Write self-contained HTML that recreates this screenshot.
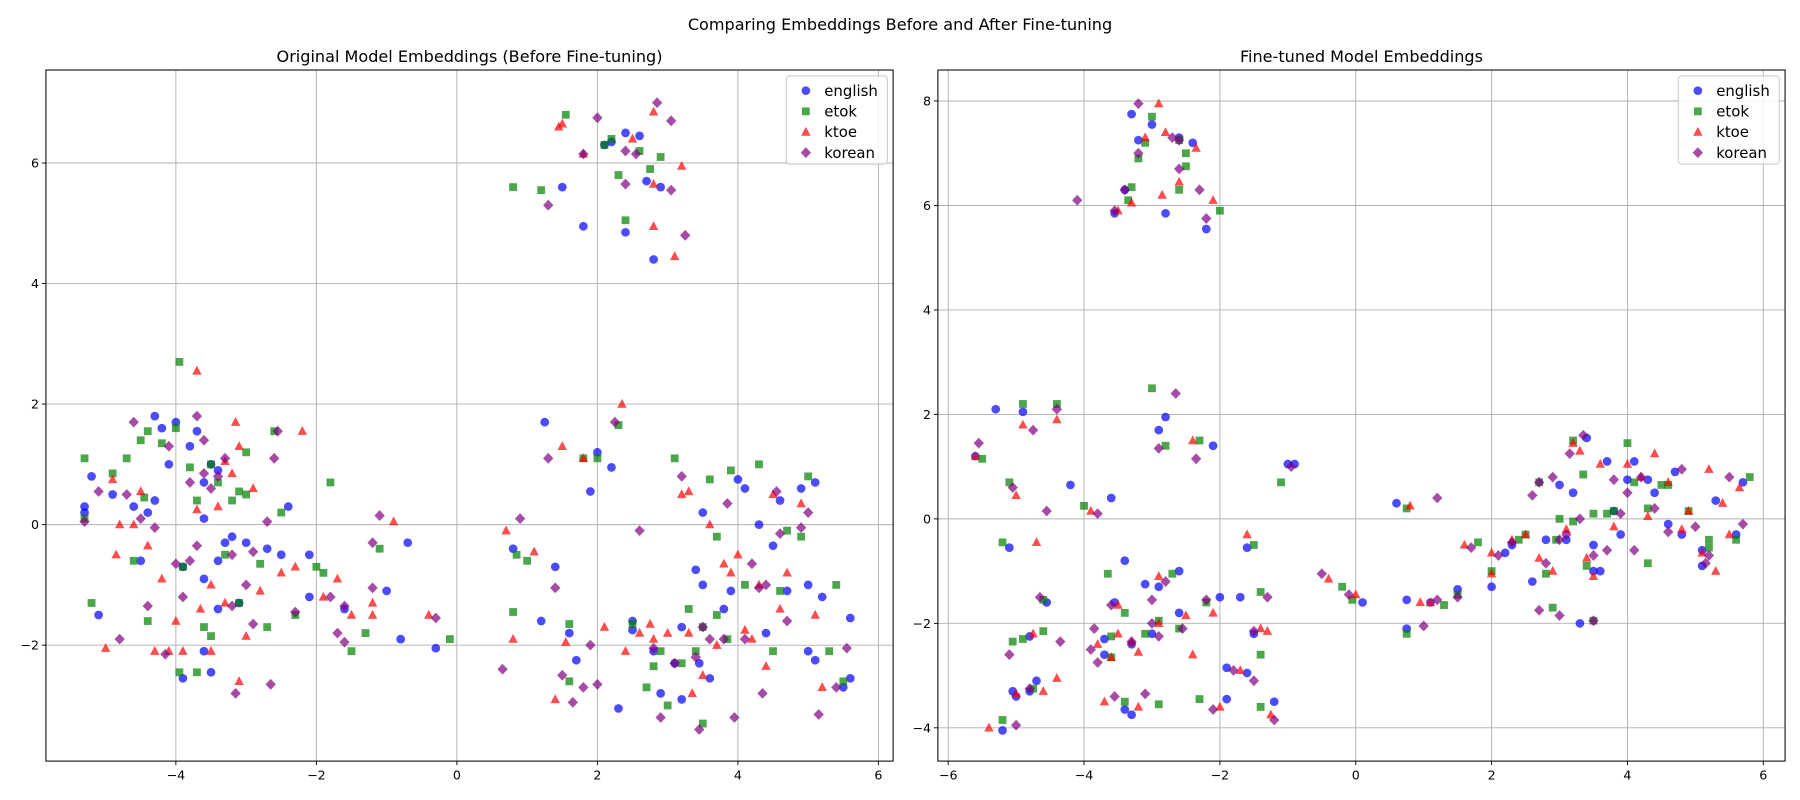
<!DOCTYPE html>
<html><head><meta charset="utf-8">
<style>
html,body{margin:0;padding:0;background:#fff;}
svg{display:block;font-family:"DejaVu Sans","Liberation Sans",sans-serif;}
</style></head>
<body>
<svg id="chart" width="1800" height="800" viewBox="0 0 1800 800">
<g id="root" transform="scale(1.14796)">
<text x="784" y="26" text-anchor="middle" font-size="14">Comparing Embeddings Before and After Fine-tuning</text>
</g>
</svg>
<script>
// ---- data ----
const seriesNames = ["english","etok","ktoe","korean"];
const leftXTicks = [-4,-2,0,2,4,6];
const leftYTicks = [-2,0,2,4,6];
const rightXTicks = [-6,-4,-2,0,2,4,6];
const rightYTicks = [-4,-2,0,2,4,6,8];

const leftEnglish = [[-5.3,0.3],[-5.3,0.2],[-5.2,0.8],[-5.1,-1.5],[-4.9,0.5],[-4.6,0.3],[-4.5,-0.6],[-4.4,0.2],[-4.3,1.8],[-4.3,0.4],[-4.2,1.6],[-4.1,1.0],[-4.0,1.7],[-3.9,-2.55],[-3.8,1.3],[-3.7,1.55],[-3.6,-0.9],[-3.6,0.7],[-3.6,0.1],[-3.5,1.0],[-3.4,0.9],[-3.4,-1.4],[-3.4,-0.6],[-3.3,-0.3],[-3.2,-0.2],[-3.1,-1.3],[-3.0,-0.3],[-2.7,-0.4],[-2.5,-0.5],[-2.4,0.3],[-2.1,-0.5],[-2.1,-1.2],[-1.6,-1.4],[-1.0,-1.1],[-0.7,-0.3],[-0.3,-2.05],[-0.8,-1.9],[-3.6,-2.1],[-3.5,-2.45],[-3.9,-0.7],
[1.5,5.6],[1.8,4.95],[2.1,6.3],[2.2,6.35],[2.4,6.5],[2.6,6.45],[2.4,4.85],[2.7,5.7],[2.8,4.4],[2.9,5.6],
[1.25,1.7],[1.4,-0.7],[0.8,-0.4],[1.2,-1.6],[1.6,-1.8],[1.7,-2.25],[1.9,0.55],[2.0,1.2],[2.2,0.95],[2.3,-3.05],[2.5,-1.6],[2.5,-1.75],[2.8,-2.1],[2.9,-2.8],[3.2,-1.7],[3.2,-2.9],[3.4,-0.75],[3.45,-2.3],[3.5,0.2],[3.5,-1.0],[3.6,-2.55],[3.8,-1.4],[3.9,-1.1],[4.0,0.75],[4.1,0.6],[4.3,0.0],[4.4,-1.8],[4.5,-0.35],[4.6,0.4],[4.9,0.6],[5.0,-1.0],[5.0,-2.1],[5.1,-2.25],[5.1,0.7],[5.2,-1.2],[5.5,-2.7],[5.6,-1.55],[5.6,-2.55],[4.7,-1.1],[3.1,-2.3]];
const leftEtok = [[-5.3,1.1],[-5.3,0.1],[-5.2,-1.3],[-4.9,0.85],[-4.7,1.1],[-4.6,-0.6],[-4.5,1.4],[-4.45,0.45],[-4.4,1.55],[-4.4,-1.6],[-4.2,1.35],[-4.0,1.6],[-3.95,2.7],[-3.95,-2.45],[-3.9,-0.7],[-3.8,0.95],[-3.7,0.4],[-3.7,-2.45],[-3.6,-1.7],[-3.5,1.0],[-3.5,-1.85],[-3.4,0.7],[-3.3,-0.5],[-3.2,0.4],[-3.1,-1.3],[-3.1,0.55],[-3.0,1.2],[-3.0,0.5],[-2.8,-0.65],[-2.7,-1.7],[-2.6,1.55],[-2.5,0.2],[-2.3,-1.5],[-2.0,-0.7],[-1.9,-0.8],[-1.8,0.7],[-1.5,-2.1],[-1.3,-1.8],[-1.1,-0.4],[-0.1,-1.9],
[0.8,5.6],[1.2,5.55],[1.55,6.8],[2.1,6.3],[2.2,6.4],[2.3,5.8],[2.4,5.05],[2.6,6.2],[2.75,5.9],[2.9,6.1],
[0.8,-1.45],[0.85,-0.5],[1.0,-0.6],[1.6,-1.65],[1.6,-2.6],[1.8,1.1],[2.0,1.1],[2.3,1.65],[2.5,-1.65],[2.7,-2.7],[2.8,-2.35],[3.0,-3.0],[3.1,1.1],[3.2,-2.3],[3.3,-1.4],[3.4,-2.1],[3.5,-3.3],[3.6,0.75],[3.7,-0.2],[3.7,-1.5],[3.85,-1.9],[3.9,0.9],[4.1,-1.0],[4.3,1.0],[4.5,-2.1],[4.6,-1.1],[4.7,-0.1],[4.9,-0.2],[5.0,0.8],[5.4,-1.0],[5.3,-2.1],[5.5,-2.6],[3.5,-1.7],[2.9,-2.1]];
const leftKtoe = [[-5.0,-2.05],[-4.9,0.75],[-4.85,-0.5],[-4.8,0.0],[-4.6,0.0],[-4.5,0.55],[-4.4,-0.35],[-4.3,-2.1],[-4.2,-0.9],[-4.1,-2.1],[-4.0,-1.6],[-3.9,-2.1],[-3.7,2.55],[-3.7,0.25],[-3.65,-1.4],[-3.5,-2.1],[-3.5,-1.0],[-3.4,0.3],[-3.3,-1.3],[-3.3,1.05],[-3.2,0.85],[-3.15,1.7],[-3.1,1.3],[-3.1,-2.6],[-3.0,-1.85],[-2.9,0.6],[-2.8,-1.1],[-2.5,-0.8],[-2.3,-0.7],[-2.2,1.55],[-1.9,-1.2],[-1.7,-0.9],[-1.5,-1.5],[-1.2,-1.5],[-1.2,-1.3],[-0.9,0.05],[-0.4,-1.5],
[1.45,6.6],[1.5,6.65],[1.8,6.15],[2.5,6.4],[2.8,6.85],[2.8,5.65],[3.2,5.95],[3.1,4.45],[2.8,4.95],
[0.7,-0.1],[0.8,-1.9],[1.1,-0.45],[1.4,-2.9],[1.5,1.3],[1.55,-1.95],[1.8,1.1],[2.1,-1.7],[2.35,2.0],[2.4,-2.1],[2.6,-1.8],[2.75,-1.65],[2.8,-1.9],[3.0,-1.8],[3.2,0.5],[3.3,0.55],[3.3,-1.8],[3.35,-2.8],[3.5,-2.5],[3.6,0.0],[3.7,-2.0],[3.8,-0.65],[3.9,-0.8],[4.0,-0.5],[4.1,-1.75],[4.2,-1.9],[4.3,-1.0],[4.5,0.5],[4.6,-1.4],[4.7,-0.8],[4.9,0.35],[5.1,-1.5],[5.2,-2.7],[4.4,-2.35]];
const leftKorean = [[-5.3,0.05],[-5.1,0.55],[-4.8,-1.9],[-4.7,0.5],[-4.6,1.7],[-4.5,0.1],[-4.4,-1.35],[-4.3,-0.05],[-4.15,-2.15],[-4.1,1.3],[-4.0,-0.65],[-3.9,-1.2],[-3.8,0.7],[-3.8,-0.6],[-3.7,1.8],[-3.7,-0.35],[-3.6,1.4],[-3.6,0.85],[-3.5,0.6],[-3.4,0.8],[-3.3,1.1],[-3.2,-0.5],[-3.2,-1.35],[-3.15,-2.8],[-3.0,-1.0],[-2.9,-0.45],[-2.9,-1.65],[-2.7,0.05],[-2.65,-2.65],[-2.6,1.1],[-2.55,1.55],[-2.3,-1.45],[-1.8,-1.2],[-1.7,-1.8],[-1.6,-1.95],[-1.6,-1.35],[-1.2,-0.3],[-1.2,-1.05],[-1.1,0.15],[-0.3,-1.55],
[1.3,5.3],[1.8,6.15],[2.0,6.75],[2.4,6.2],[2.4,5.65],[2.55,6.15],[2.85,7.0],[3.05,6.7],[3.05,5.55],[3.25,4.8],
[0.65,-2.4],[0.9,0.1],[1.3,1.1],[1.4,-1.05],[1.5,-2.5],[1.65,-2.95],[1.8,-2.7],[1.9,-2.0],[2.0,-2.65],[2.25,1.7],[2.6,-0.1],[2.8,-2.05],[2.9,-3.2],[3.1,-2.3],[3.2,0.8],[3.4,-2.2],[3.45,-3.4],[3.5,-1.7],[3.6,-1.9],[3.8,-1.9],[3.85,0.35],[3.95,-3.2],[4.1,-1.9],[4.2,-0.65],[4.3,-1.05],[4.35,-2.8],[4.4,-1.0],[4.55,0.55],[4.6,-0.15],[4.7,-1.6],[4.9,-0.05],[5.0,0.2],[5.15,-3.15],[5.4,-2.7],[5.55,-2.05]];

const rightEnglish = [[-3.3,7.75],[-3.2,7.25],[-3.0,7.55],[-2.6,7.3],[-2.4,7.2],[-3.4,6.3],[-3.55,5.85],[-2.8,5.85],[-2.2,5.55],
[-5.3,2.1],[-5.6,1.2],[-4.9,2.05],[-5.1,-0.55],[-4.2,0.65],[-3.6,0.4],[-2.9,1.7],[-2.8,1.95],[-2.1,1.4],[-3.7,-2.3],[-3.7,-2.6],[-3.55,-1.6],[-3.4,-0.8],[-3.1,-1.25],[-3.3,-2.4],[-3.0,-2.2],[-2.6,-1.0],[-2.9,-1.3],[-2.0,-1.5],[-1.6,-0.55],[-1.5,-2.2],[-1.7,-1.5],[-1.9,-2.85],[-1.6,-2.95],[-1.2,-3.5],[-1.9,-3.45],[-3.4,-3.65],[-3.3,-3.75],[-5.2,-4.05],[-5.0,-3.4],[-4.8,-3.3],[-4.7,-3.1],[-4.55,-1.6],[-5.05,-3.3],[-4.8,-2.25],[-2.6,-1.8],[-1.0,1.05],[-0.9,1.05],
[0.1,-1.6],[0.6,0.3],[0.75,-1.55],[0.75,-2.1],[1.1,-1.6],[1.5,-1.35],[2.0,-1.3],[2.2,-0.65],[2.3,-0.5],[2.6,-1.2],[2.8,-0.4],[3.0,0.65],[3.1,-0.4],[3.2,0.5],[3.3,-2.0],[3.4,1.55],[3.5,-0.5],[3.6,-1.0],[3.7,1.1],[3.8,0.15],[3.9,-0.3],[4.0,0.75],[4.1,1.1],[4.3,0.75],[4.4,0.5],[4.6,-0.1],[4.7,0.9],[4.8,-0.3],[5.1,-0.6],[5.1,-0.9],[5.3,0.35],[5.6,-0.3],[5.7,0.7],[3.5,-1.0]];
const rightEtok = [[-3.0,7.7],[-3.1,7.2],[-3.2,6.9],[-2.6,7.25],[-2.5,7.0],[-2.5,6.75],[-2.6,6.3],[-3.35,6.1],[-3.3,6.35],[-2.0,5.9],
[-5.5,1.15],[-5.1,0.7],[-4.9,2.2],[-4.4,2.2],[-4.0,0.25],[-3.0,2.5],[-2.8,1.4],[-2.3,1.5],[-5.2,-0.45],[-5.05,-2.35],[-4.9,-2.3],[-4.6,-2.15],[-5.2,-3.85],[-4.75,-3.25],[-4.6,-1.55],[-3.65,-1.05],[-3.4,-1.8],[-3.6,-2.25],[-3.6,-2.65],[-3.4,-3.5],[-2.9,-3.55],[-2.7,-1.05],[-2.6,-2.1],[-2.2,-1.6],[-2.3,-3.45],[-1.5,-0.5],[-1.4,-1.4],[-1.4,-2.6],[-1.4,-3.6],[-1.1,0.7],[-2.9,-1.95],[-3.1,-2.2],
[-0.2,-1.3],[-0.05,-1.55],[0.75,0.2],[0.75,-2.2],[1.3,-1.65],[1.5,-1.45],[1.8,-0.45],[2.0,-1.0],[2.4,-0.4],[2.5,-0.3],[2.7,0.7],[2.8,-1.05],[2.9,-1.7],[3.0,0.0],[3.2,1.5],[3.2,-0.05],[3.35,0.85],[3.5,-1.95],[3.5,0.1],[3.7,0.1],[3.8,0.15],[4.0,1.45],[4.1,0.7],[4.3,-0.85],[4.3,0.2],[4.5,0.65],[4.6,0.65],[4.9,0.15],[5.2,-0.4],[5.2,-0.55],[5.6,-0.4],[5.8,0.8],[3.4,-0.9],[2.95,-0.4]];
const rightKtoe = [[-3.5,5.9],[-3.3,6.05],[-2.9,7.95],[-2.8,7.4],[-2.85,6.2],[-2.6,6.45],[-2.35,7.1],[-2.1,6.1],[-3.1,7.3],
[-5.6,1.2],[-5.0,0.45],[-4.9,1.8],[-4.7,-0.45],[-4.4,1.9],[-3.9,0.15],[-2.4,1.5],[-5.4,-4.0],[-5.0,-3.35],[-4.75,-2.2],[-4.6,-3.3],[-4.4,-3.05],[-3.8,-2.4],[-3.5,-2.2],[-3.6,-2.65],[-3.3,-2.35],[-3.2,-2.55],[-3.2,-3.6],[-2.9,-1.1],[-2.9,-2.0],[-2.5,-1.85],[-2.1,-1.8],[-2.0,-3.6],[-1.6,-0.3],[-1.4,-2.1],[-1.3,-2.15],[-1.25,-3.75],[-1.7,-2.9],[-3.5,-1.65],[-2.4,-2.6],[-3.7,-3.5],
[-0.4,-1.15],[0.0,-1.45],[0.8,0.25],[0.95,-1.6],[1.1,-1.6],[1.6,-0.5],[2.0,-1.05],[2.0,-0.65],[2.3,-0.4],[2.5,-0.3],[2.7,-0.75],[2.9,-1.0],[3.1,-0.2],[3.2,1.45],[3.3,1.3],[3.4,-0.75],[3.5,-1.1],[3.6,1.05],[3.8,-0.15],[4.0,1.05],[4.2,0.8],[4.3,0.05],[4.4,1.25],[4.6,0.7],[4.8,-0.2],[4.9,0.15],[5.1,-0.65],[5.2,0.95],[5.3,-1.0],[5.4,0.3],[5.5,-0.3],[5.65,0.6]];
const rightKorean = [[-3.2,7.95],[-3.2,7.0],[-2.7,7.3],[-2.6,7.25],[-2.6,6.7],[-2.3,6.3],[-2.2,5.75],[-3.4,6.3],[-3.55,5.9],[-4.1,6.1],
[-5.55,1.45],[-5.05,0.6],[-4.75,1.7],[-4.4,2.1],[-4.55,0.15],[-3.8,0.1],[-2.65,2.4],[-2.9,1.35],[-2.35,1.15],[-5.1,-2.6],[-5.0,-3.95],[-4.8,-3.25],[-4.65,-1.5],[-4.35,-2.35],[-3.85,-2.1],[-3.8,-2.75],[-3.6,-1.65],[-3.55,-3.4],[-3.3,-2.35],[-3.0,-2.0],[-3.0,-1.55],[-2.9,-2.25],[-2.8,-1.2],[-2.2,-1.55],[-2.1,-3.65],[-1.8,-2.9],[-1.5,-2.15],[-1.5,-3.1],[-1.3,-1.5],[-1.2,-3.85],[-0.95,1.0],[-3.1,-3.35],[-2.55,-2.1],[-3.9,-2.5],
[-0.5,-1.05],[-0.1,-1.45],[1.0,-2.05],[1.2,-1.55],[1.2,0.4],[1.5,-1.5],[1.7,-0.55],[2.1,-0.7],[2.3,-0.45],[2.6,0.45],[2.7,0.7],[2.8,-0.85],[2.9,0.8],[3.0,-0.4],[3.1,-0.3],[3.15,1.25],[3.3,0.0],[3.35,1.6],[3.5,-0.7],[3.7,-0.6],[3.8,0.75],[3.9,0.1],[4.0,0.5],[4.1,-0.6],[4.2,0.8],[4.4,0.2],[4.6,-0.25],[4.8,0.95],[5.0,-0.15],[5.15,-0.85],[5.2,-0.7],[5.5,0.8],[5.7,-0.1],[2.7,-1.75],[3.0,-1.85],[3.5,-1.95]];

// ---- rendering ----
const NS = "http://www.w3.org/2000/svg";
const root = document.getElementById("root");
const colors = ["rgba(0,0,255,0.7)","rgba(0,128,0,0.7)","rgba(255,0,0,0.7)","rgba(128,0,128,0.7)"];
function mk(tag, attrs, parent){ const e=document.createElementNS(NS,tag); for(const k in attrs) e.setAttribute(k,attrs[k]); (parent||root).appendChild(e); return e; }
function marker(kind, cx, cy, fill, parent){
  if(kind===0) return mk("circle",{cx:cx,cy:cy,r:3.8,fill:fill},parent);
  if(kind===1) return mk("rect",{x:cx-3.4,y:cy-3.4,width:6.8,height:6.8,fill:fill},parent);
  if(kind===2) return mk("polygon",{points:`${cx},${cy-4.5} ${cx-4.1},${cy+3.2} ${cx+4.1},${cy+3.2}`,fill:fill},parent);
  return mk("polygon",{points:`${cx},${cy-4.7} ${cx+4.5},${cy} ${cx},${cy+4.7} ${cx-4.5},${cy}`,fill:fill},parent);
}
function panel(cfg){
  const g = mk("g",{});
  
  
  const {L,T,R,B,xmin,xmax,ymin,ymax} = cfg;
  const sx = v => L + (v-xmin)/(xmax-xmin)*(R-L);
  const sy = v => B - (v-ymin)/(ymax-ymin)*(B-T);
  cfg.xt.forEach(t=>{ const l=mk("line",{x1:sx(t),x2:sx(t),y1:T,y2:B,stroke:"#b0b0b0","stroke-width":0.8},g);
      });
  cfg.yt.forEach(t=>{ const l=mk("line",{x1:L,x2:R,y1:sy(t),y2:sy(t),stroke:"#b0b0b0","stroke-width":0.8},g);
      });
  cfg.series.forEach((s,i)=>{
    const sg = mk("g",{},g);
    
    
    s.forEach(p=>{ const m=marker(i, sx(p[0]), sy(p[1]), colors[i], sg);
      
       });
  });
  const fr = mk("rect",{x:L,y:T,width:R-L,height:B-T,fill:"none",stroke:"#000","stroke-width":0.9},g);
   
  cfg.xt.forEach(t=>{ mk("line",{x1:sx(t),x2:sx(t),y1:B,y2:B+3.5,stroke:"#000","stroke-width":0.8},g);
    const tx=mk("text",{x:sx(t),y:B+16,"text-anchor":"middle","font-size":11},g); tx.textContent=(t<0?"\u2212"+(-t):t);
      });
  cfg.yt.forEach(t=>{ mk("line",{x1:L-3.5,x2:L,y1:sy(t),y2:sy(t),stroke:"#000","stroke-width":0.8},g);
    const tx=mk("text",{x:L-6,y:sy(t)+4,"text-anchor":"end","font-size":11},g); tx.textContent=(t<0?"\u2212"+(-t):t);
      });
  const tt=mk("text",{x:(L+R)/2,y:T-7,"text-anchor":"middle","font-size":14},g); tt.textContent=cfg.title;
   
  const lg = mk("g",{},g);
   
  const lx=R-93, ly=T+5;
  mk("rect",{x:lx,y:ly,width:88,height:77,rx:3,fill:"rgba(255,255,255,0.8)",stroke:"#cccccc","stroke-width":1},lg);
  seriesNames.forEach((n,i)=>{
    const ey = ly+13+i*18;
    const e = mk("g",{},lg);
     
    marker(i, lx+17, ey, colors[i], e);
    const t=mk("text",{x:lx+33,y:ey+4.5,"font-size":13},e); t.textContent=n;
  });
}
panel({name:"original-embeddings-panel",title:"Original Model Embeddings (Before Fine-tuning)",L:40,T:61,R:778,B:663,
  xmin:(40-398)/61.2,xmax:(778-398)/61.2,ymin:(457-663)/52.5,ymax:(457-61)/52.5,xt:leftXTicks,yt:leftYTicks,
  series:[leftEnglish,leftEtok,leftKtoe,leftKorean]});
panel({name:"finetuned-embeddings-panel",title:"Fine-tuned Model Embeddings",L:817,T:61,R:1555,B:663,
  xmin:(817-1181)/59.17,xmax:(1555-1181)/59.17,ymin:(452-663)/45.5,ymax:(452-61)/45.5,xt:rightXTicks,yt:rightYTicks,
  series:[rightEnglish,rightEtok,rightKtoe,rightKorean]});
</script>
</body></html>
